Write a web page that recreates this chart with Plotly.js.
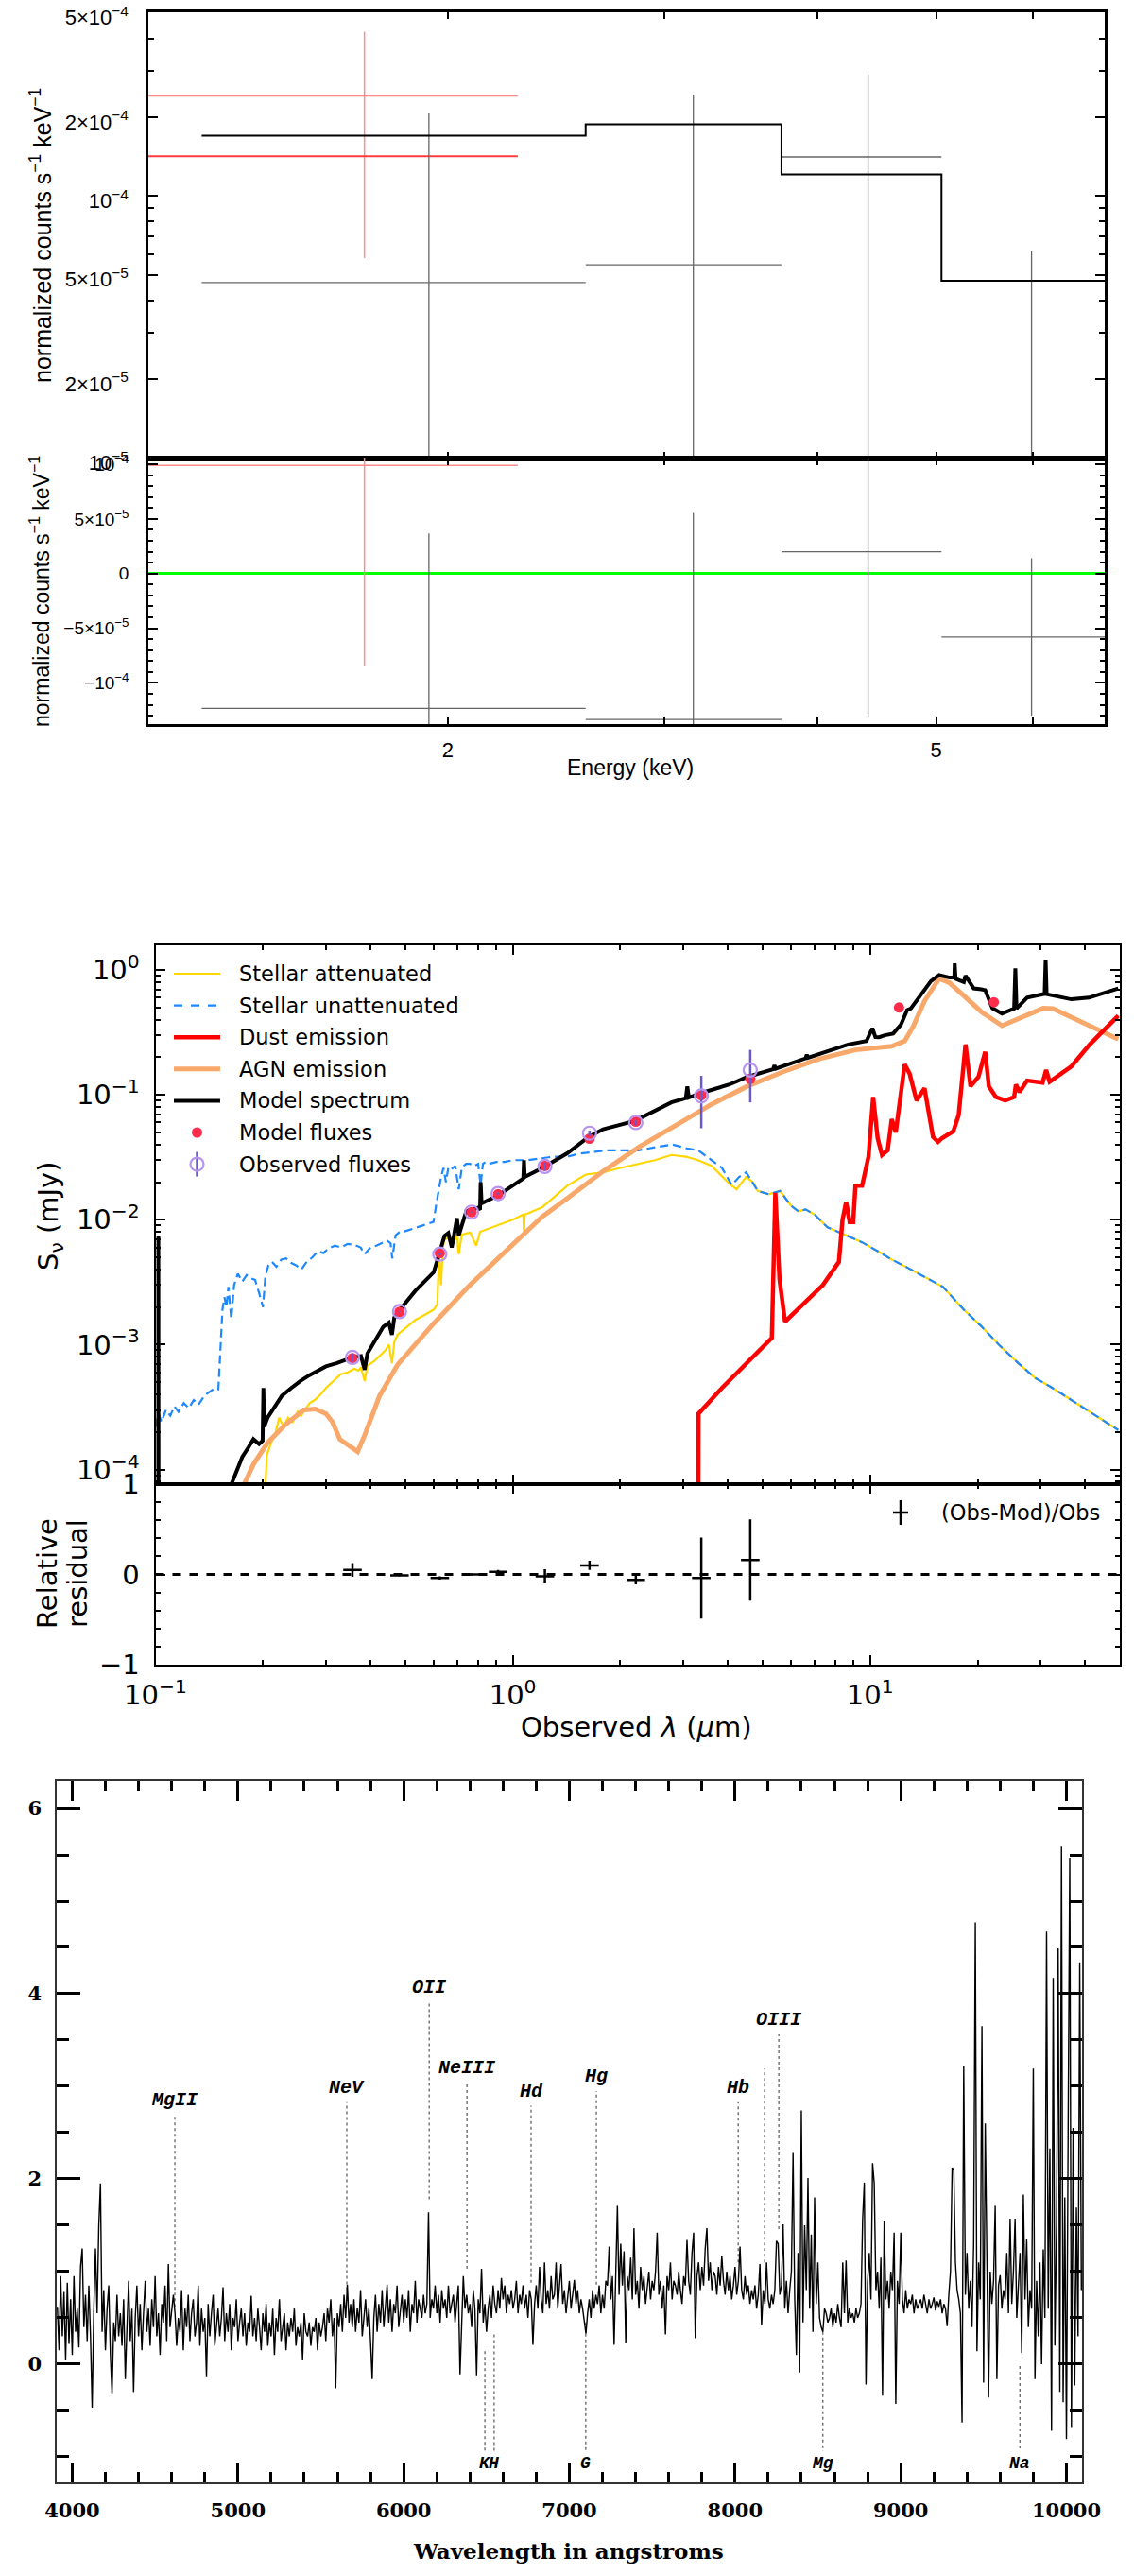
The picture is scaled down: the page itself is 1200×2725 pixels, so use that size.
<!DOCTYPE html>
<html>
<head>
<meta charset="utf-8">
<script src="https://cdn.plot.ly/plotly-3.0.1.min.js"></script>
<style>
  html, body { margin: 0; padding: 0; background: #fff; }
  #chart { width: 1200px; height: 2725px; }
</style>
</head>
<body>
<div id="chart"></div>
<script>
// ---------- X-ray spectrum: black instrument (4 bins) and red instrument (1 bin) ----------
const binLo = [1.26, 2.59, 3.74, 5.05];
const binHi = [2.59, 3.74, 5.05, 6.9];
const binE = [1.93, 3.17, 4.40, 5.98];
const binRate = [4.67e-5, 5.46e-5, 1.41e-4, -1.05e-5];
const binErr = [1.60e-4, 1.89e-4, 1.51e-4, 7.2e-5];
const binModel = [1.70e-4, 1.88e-4, 1.21e-4, 4.75e-5];

const redLo = [1.10];
const redHi = [2.28];
const redE = [1.71];
const redRate = [2.41e-4];
const redErr = [1.83e-4];
const redModel = [1.42e-4];

// ---------- SED ----------
const blueLam = [0.100,0.102,0.104,0.107,0.110,0.113,0.116,0.120,0.124,0.128,
  0.132,0.137,0.142,0.147,0.150,0.1525,0.154,0.156,0.158,0.160,
  0.163,0.166,0.170,0.175,0.180,0.185,0.190,0.195,0.200,0.203,
  0.207,0.212,0.218,0.225,0.232,0.240,0.248,0.256,0.265,0.275,
  0.285,0.295,0.305,0.318,0.330,0.345,0.360,0.375,0.385,0.400,
  0.415,0.430,0.445,0.455,0.460,0.470,0.480,0.500,0.520,0.540,
  0.560,0.580,0.600,0.610,0.620,0.630,0.640,0.650,0.660,0.670,
  0.680,0.690,0.706,0.720,0.740,0.760,0.780,0.800,0.813,0.825,
  0.840,0.860,0.900,0.950,1.00,1.10,1.20,1.30,1.42,1.55,
  1.70,1.85,2.00,2.25,2.50,2.80,3.10,3.30,3.60,3.85,
  4.10,4.30,4.50,4.85,5.20,5.60,6.00,6.30,6.60,7.00,
  7.60,8.50,9.50,10.5,11.5,13.0,14.5,16.0,18.3,20.5,
  23.0,26.0,29.0,32.0,36.6,42.0,49.5];
const blueS = [2.2e-4,2.8e-4,2.4e-4,3.0e-4,2.7e-4,3.2e-4,2.9e-4,3.4e-4,3.1e-4,3.6e-4,
  3.3e-4,3.9e-4,4.2e-4,4.5e-4,4.4e-4,1.0e-3,1.9e-3,2.4e-3,2.0e-3,2.9e-3,
  1.6e-3,3.0e-3,3.7e-3,3.2e-3,3.6e-3,3.4e-3,3.3e-3,2.6e-3,2.0e-3,3.5e-3,
  4.3e-3,4.6e-3,4.2e-3,4.8e-3,4.9e-3,4.5e-3,4.3e-3,4.0e-3,4.6e-3,5.0e-3,
  5.6e-3,5.4e-3,5.9e-3,6.2e-3,6.0e-3,6.4e-3,6.3e-3,6.0e-3,5.3e-3,6.0e-3,
  6.2e-3,6.5e-3,6.8e-3,6.5e-3,4.9e-3,7.5e-3,7.9e-3,8.1e-3,8.4e-3,8.6e-3,
  8.9e-3,9.3e-3,9.6e-3,1.3e-2,1.75e-2,2.2e-2,2.6e-2,2.0e-2,2.6e-2,2.5e-2,
  2.6e-2,2.7e-2,1.75e-2,2.6e-2,2.8e-2,2.8e-2,2.7e-2,2.8e-2,1.9e-2,2.8e-2,
  2.9e-2,2.8e-2,2.9e-2,2.9e-2,3.0e-2,3.0e-2,3.1e-2,3.2e-2,3.2e-2,3.4e-2,
  3.5e-2,3.6e-2,3.6e-2,3.6e-2,3.8e-2,4.0e-2,3.7e-2,3.6e-2,3.0e-2,2.6e-2,
  1.9e-2,2.2e-2,2.4e-2,1.7e-2,1.6e-2,1.7e-2,1.3e-2,1.17e-2,1.21e-2,1.1e-2,
  8.7e-3,7.6e-3,6.6e-3,5.6e-3,4.8e-3,4.0e-3,3.4e-3,2.9e-3,1.9e-3,1.4e-3,
  9.9e-4,7.1e-4,5.4e-4,4.6e-4,3.6e-4,2.8e-4,2.07e-4];

// attenuated stars; beyond ~4.8 um it follows the unattenuated curve
const goldLam = [0.203,0.205,0.210,0.216,0.222,0.228,0.235,0.242,0.250,0.256,
  0.262,0.270,0.279,0.290,0.300,0.310,0.320,0.330,0.345,0.360,
  0.370,0.376,0.385,0.392,0.410,0.424,0.440,0.450,0.459,0.466,
  0.476,0.500,0.534,0.560,0.600,0.615,0.622,0.630,0.637,0.644,
  0.660,0.680,0.698,0.706,0.720,0.760,0.790,0.810,0.850,0.900,
  0.957,1.00,1.07,1.075,1.08,1.10,1.21,1.42,1.60,1.79,
  2.00,2.25,2.50,2.78,3.05,3.30,3.60,4.04,4.23,4.50,4.70];
const goldS = [7e-5,1.3e-4,1.6e-4,1.9e-4,2.6e-4,2.2e-4,2.6e-4,2.4e-4,2.9e-4,2.7e-4,
  3.0e-4,3.4e-4,3.6e-4,4.0e-4,4.5e-4,4.9e-4,5.3e-4,5.8e-4,6.0e-4,6.4e-4,
  6.2e-4,6.6e-4,5.1e-4,6.8e-4,7.4e-4,8.1e-4,9.0e-4,1.0e-3,7.1e-4,1.05e-3,
  1.2e-3,1.35e-3,1.58e-3,1.7e-3,1.9e-3,2.1e-3,5.3e-3,3.0e-3,6.0e-3,6.9e-3,
  7.2e-3,6.5e-3,7.4e-3,5.3e-3,7.6e-3,7.9e-3,6.2e-3,8.0e-3,8.4e-3,9.0e-3,
  9.6e-3,1.0e-2,1.1e-2,8.0e-3,1.1e-2,1.12e-2,1.26e-2,1.87e-2,2.3e-2,2.4e-2,
  2.6e-2,2.8e-2,3.0e-2,3.3e-2,3.2e-2,3.0e-2,2.7e-2,1.94e-2,1.75e-2,2.2e-2,2.0e-2];

const agnLam = [0.177,0.188,0.206,0.231,0.260,0.280,0.300,0.313,0.328,0.345,
  0.368,0.385,0.424,0.476,0.601,0.759,0.957,1.21,1.42,1.79,
  2.25,2.84,3.60,4.53,5.71,7.21,9.10,11.5,12.5,13.2,
  14.2,15.6,16.7,18.3,20.5,23.4,26.6,30.5,32.5,36.6,49.5];
const agnS = [7.6e-5,1.1e-4,1.64e-4,2.29e-4,3.0e-4,3.05e-4,2.8e-4,2.4e-4,1.75e-4,1.58e-4,
  1.39e-4,1.88e-4,3.9e-4,6.9e-4,1.48e-3,3.0e-3,5.6e-3,1.06e-2,1.48e-2,2.44e-2,
  3.8e-2,5.6e-2,8.4e-2,0.117,0.153,0.194,0.229,0.245,0.270,0.353,
  0.563,0.852,0.787,0.622,0.461,0.358,0.417,0.493,0.49,0.417,0.279];

const dustLam = [3.30,3.31,3.85,4.53,5.31,5.43,5.58,5.78,7.38,8.18,
  8.37,8.57,8.77,8.97,9.10,9.50,9.90,10.2,10.5,10.8,
  11.2,11.5,11.8,12.5,12.9,13.5,14.2,15.0,15.5,15.9,
  17.1,17.7,18.5,19.1,20.1,21.0,21.5,22.5,23.9,25.3,
  25.6,26.2,27.5,30.4,31.1,31.8,36.6,41.2,49.5];
const dustS = [1e-5,2.8e-4,4.5e-4,7.1e-4,1.13e-3,1.64e-2,3.3e-3,1.53e-3,3.0e-3,4.6e-3,
  9.9e-3,1.39e-2,9.6e-3,9.6e-3,1.87e-2,1.87e-2,3.2e-2,9.6e-2,4.5e-2,3.3e-2,
  3.6e-2,6.4e-2,5.0e-2,0.175,0.148,9.0e-2,0.113,4.6e-2,4.2e-2,4.5e-2,
  5.1e-2,6.9e-2,0.253,0.117,0.139,0.221,0.117,9.6e-2,9.0e-2,9.6e-2,
  0.121,0.105,0.130,0.125,0.158,0.127,0.169,0.253,0.431];

const modelLam = [0.1000,0.1018,0.1019,0.1021,0.1600,0.163,0.167,0.175,0.182,0.188,
  0.195,0.1995,0.2005,0.2015,0.206,0.215,0.226,0.240,0.254,0.270,
  0.285,0.300,0.321,0.340,0.356,0.376,0.385,0.392,0.405,0.434,
  0.450,0.459,0.466,0.476,0.534,0.601,0.622,0.644,0.660,0.675,
  0.698,0.706,0.741,0.800,0.810,0.813,0.818,0.914,1.07,1.075,
  1.08,1.21,1.42,1.63,1.79,2.20,2.78,3.05,3.08,3.11,
  3.35,4.04,4.53,5.35,5.40,5.45,6.60,6.65,6.70,8.69,
  9.77,10.15,10.35,10.6,11.0,11.6,12.2,12.7,13.0,14.2,
  14.8,15.6,16.7,17.2,17.25,17.35,18.3,18.5,19.5,20.5,
  21.0,22.0,23.4,25.3,25.5,25.7,27.5,30.8,31.0,31.2,
  36.6,41.0,49.5];
const modelS = [1e-6,1e-6,7.4e-3,1e-6,1e-6,7.6e-5,9e-5,1.26e-4,1.5e-4,1.75e-4,
  1.6e-4,1.7e-4,4.5e-4,2.2e-4,2.6e-4,3.1e-4,3.9e-4,4.5e-4,5.1e-4,5.7e-4,
  6.2e-4,6.7e-4,7.1e-4,7.5e-4,7.9e-4,8.1e-4,6.3e-4,8.5e-4,9.9e-4,1.39e-3,
  1.5e-3,1.2e-3,1.65e-3,1.81e-3,2.7e-3,3.8e-3,5.3e-3,7.4e-3,7.8e-3,6.0e-3,
  1.03e-2,7.5e-3,1.17e-2,1.25e-2,1.2e-2,2.0e-2,1.35e-2,1.58e-2,2.14e-2,3.0e-2,
  2.2e-2,2.6e-2,3.4e-2,4.6e-2,5.3e-2,6.2e-2,8.7e-2,9.4e-2,0.117,9.5e-2,
  0.103,0.121,0.139,0.160,0.172,0.162,0.196,0.21,0.198,0.253,
  0.270,0.341,0.29,0.289,0.30,0.309,0.365,0.477,0.49,0.689,
  0.813,0.910,0.869,0.87,1.13,0.85,0.80,0.9,0.711,0.70,
  0.689,0.493,0.446,0.49,1.03,0.49,0.60,0.644,1.21,0.64,
  0.582,0.60,0.711];

const obsLam = [0.356, 0.482, 0.625, 0.767, 0.910, 1.23, 1.64, 2.21, 3.37, 4.62];
const obsS = [7.9e-4, 1.84e-3, 5.3e-3, 1.15e-2, 1.62e-2, 2.67e-2, 4.93e-2, 6.0e-2, 9.8e-2, 0.158];
const obsErr = [6e-5, 2e-5, 1e-4, 1.2e-4, 3e-4, 2.1e-3, 2.5e-3, 3e-3, 0.044, 0.071];
const modFluxLam = [0.356, 0.482, 0.625, 0.767, 0.910, 1.23, 1.64, 2.21, 3.37, 4.62, 12.05, 22.2];
const modFluxS = [7.8e-4, 1.83e-3, 5.4e-3, 1.15e-2, 1.6e-2, 2.7e-2, 4.46e-2, 6.1e-2, 0.099, 0.134, 0.50, 0.552];
const resid = [0.05, -0.01, -0.04, 0.0, 0.03, -0.02, 0.10, -0.06, -0.04, 0.16];

// ---------- optical spectrum, 10 A sampling from 3910 A ----------
const specStart = 3910, specStep = 10;
const specFlux = [
  0.62,0.15,0.95,0.30,0.78,0.05,0.88,0.22,0.70,0.10,0.95,0.35,0.60,0.18,1.05,1.25,0.40,0.75,0.25,0.85,
  0.30,-0.47,0.60,1.25,0.55,1.50,1.95,0.35,0.80,0.15,0.60,0.85,0.10,-0.33,0.45,0.25,0.75,0.30,0.55,0.20,
  0.70,-0.16,0.40,0.90,0.25,0.60,-0.30,0.50,0.85,0.30,0.65,0.15,0.55,0.90,0.35,0.60,0.20,0.70,0.40,0.95,
  0.30,0.55,0.10,0.65,0.45,0.85,0.25,1.08,0.40,0.60,0.75,0.55,0.20,0.50,0.35,0.80,0.15,0.60,0.40,0.75,
  0.25,0.55,0.70,0.30,0.45,0.85,0.20,0.60,0.35,0.50,-0.13,0.65,0.30,0.55,0.75,0.20,0.45,0.60,0.30,0.50,
  0.83,0.25,0.55,0.35,0.65,0.15,0.50,0.40,0.70,0.25,0.45,0.60,0.30,0.55,0.20,0.45,0.35,0.74,0.30,0.50,
  0.25,0.60,0.40,0.15,0.55,0.35,0.65,0.20,0.45,0.30,0.60,0.10,0.50,0.35,0.70,0.25,0.40,0.55,0.15,0.45,
  0.30,0.50,0.35,0.60,0.20,0.40,0.30,0.45,0.05,0.55,0.35,0.30,0.45,0.20,0.40,0.35,0.50,0.15,0.45,0.30,
  0.40,0.55,0.25,0.60,0.45,0.70,0.30,0.50,-0.26,0.55,0.40,0.65,0.35,0.75,0.50,0.86,0.45,0.65,0.40,0.70,
  0.35,0.60,0.45,0.80,0.30,0.55,0.70,0.40,0.60,0.25,-0.16,0.50,0.75,0.35,0.65,0.45,0.80,0.40,0.60,0.86,
  0.45,0.70,0.35,0.65,0.55,0.85,0.40,0.60,0.75,0.45,0.70,0.50,0.80,0.35,0.65,0.55,0.90,0.45,0.70,0.60,
  0.50,0.75,0.55,0.65,1.64,0.50,0.70,0.60,0.85,0.55,0.75,0.45,0.80,0.60,0.70,0.50,0.85,0.55,0.65,0.75,
  0.45,0.70,0.85,-0.11,0.50,0.95,0.60,0.75,0.55,0.65,0.40,0.80,0.60,-0.12,0.70,0.55,1.03,0.45,0.65,0.35,
  0.60,0.75,0.50,0.85,0.65,0.55,0.80,0.60,0.93,0.70,0.85,0.55,0.75,0.65,0.80,0.60,0.70,0.90,0.55,0.75,
  0.65,0.85,0.60,0.75,0.50,0.80,0.70,0.21,0.65,0.85,0.60,1.05,0.70,0.55,1.10,0.65,0.80,0.60,0.95,0.70,
  0.75,1.10,0.60,0.85,1.08,0.65,0.80,0.55,0.70,0.90,0.60,0.75,0.91,0.65,0.80,0.55,0.70,0.60,0.45,0.33,
  0.55,0.70,0.50,0.80,0.60,0.75,0.65,0.85,0.55,0.75,0.60,0.90,0.85,1.27,0.70,0.95,0.21,0.90,1.71,0.75,
  1.30,0.85,1.22,0.23,0.95,0.80,1.15,0.70,1.47,0.75,0.90,0.60,1.05,0.80,0.95,0.65,0.85,1.00,0.70,0.90,
  0.80,1.00,1.42,0.75,0.90,0.60,0.85,0.32,0.95,0.80,1.10,0.70,0.90,0.85,0.75,1.00,0.80,0.65,0.95,0.85,
  1.34,0.90,0.75,1.20,1.42,0.28,0.95,1.10,0.80,1.05,0.85,1.25,1.47,0.90,1.10,0.80,1.00,0.95,0.75,1.05,
  0.85,1.17,0.90,0.75,1.00,0.80,0.95,0.70,0.85,1.05,0.75,0.90,1.27,0.80,0.70,0.95,0.75,0.85,0.65,0.80,
  0.70,0.85,0.60,0.75,1.08,0.42,0.80,0.65,1.10,0.70,0.60,0.75,0.65,0.80,1.33,1.30,0.75,0.85,1.51,0.60,
  0.90,0.55,0.80,1.00,2.28,0.70,0.10,1.20,-0.09,2.74,0.45,1.50,0.80,2.01,0.60,1.40,0.35,1.80,0.65,1.10,
  0.50,0.40,0.35,0.60,0.55,0.45,0.50,0.60,0.40,0.55,0.45,0.65,0.50,0.40,1.10,0.55,1.12,0.45,0.60,0.50,
  0.55,0.45,0.60,0.50,0.55,0.65,1.57,1.96,-0.22,0.90,1.20,0.70,2.17,1.95,0.80,1.00,0.60,1.15,-0.34,1.55,
  0.70,0.90,0.60,1.00,0.80,1.42,-0.43,0.90,0.65,1.42,0.70,0.55,0.80,0.60,0.70,0.65,0.75,0.55,0.70,0.60,
  0.65,0.70,0.60,0.75,0.65,0.55,0.70,0.60,0.65,0.72,0.58,0.68,0.62,0.70,0.55,0.65,0.60,0.41,0.75,1.00,
  2.12,2.10,1.10,0.80,0.70,0.55,-0.63,3.22,0.75,1.20,0.60,0.90,0.40,1.30,4.77,0.14,1.10,0.70,3.65,-0.20,
  2.60,0.80,-0.36,1.00,0.65,0.90,1.71,-0.16,0.85,0.96,0.60,0.80,0.70,1.20,0.55,1.57,0.65,1.00,1.57,0.50,
  0.85,1.20,0.12,1.83,0.70,1.35,0.40,0.80,0.60,3.19,-0.16,0.90,0.30,1.10,0.00,1.24,0.50,4.67,0.60,2.33,
  -0.72,4.17,0.20,1.50,4.49,-0.30,5.59,-0.41,1.80,-0.81,2.50,5.47,-0.68,2.55,-0.23,1.69,0.30,4.33,0.80
];
const specWave = specFlux.map((_, i) => specStart + i * specStep);

const emWave = [4619, 5657, 6154, 6382, 6769, 7163, 8019, 8178, 8264];
const emTop = [2.69, 2.83, 3.91, 3.04, 2.79, 2.95, 2.83, 3.19, 3.56];
const emBase = [0.62, 0.80, 1.78, 1.03, 0.88, 0.86, 1.10, 1.10, 1.46];
const emName = ['MgII', 'NeV', 'OII', 'NeIII', 'Hd', 'Hg', 'Hb', '', 'OIII'];
const absWave = [6490, 6546, 7099, 8530, 9719];
const absTop = [0.14, 0.32, 0.45, 0.35, -0.02];
const absBase = [-0.94, -0.94, -0.94, -0.94, -0.94];
const absName = ['K', 'H', 'G', 'Mg', 'Na'];

// ---------- helpers ----------
const W = 1200, H = 2725;
const px = v => v / W;
const py = v => 1 - v / H;

// data crosses as segments: horizontal bin width + vertical error
function crosses(lo, hi, e, val, err, floor) {
  const x = [], y = [];
  for (let i = 0; i < e.length; i++) {
    let down = val[i] - err[i];
    if (floor !== undefined) down = Math.max(down, floor);
    x.push(lo[i], hi[i], null, e[i], e[i], null);
    y.push(val[i], val[i], null, down, val[i] + err[i], null);
  }
  return {x, y};
}
function vsegs(xs, a, b) {
  const x = [], y = [];
  xs.forEach((v, i) => { x.push(v, v, null); y.push(a[i], b[i], null); });
  return {x, y};
}
function decadeMinors(lo, hi) {
  const out = [];
  for (let d = lo; d <= hi; d++) for (let k = 2; k <= 9; k++) out.push(k * Math.pow(10, d));
  return out;
}

const blackResid = binRate.map((r, i) => r - binModel[i]);
const redResid = redRate.map((r, i) => r - redModel[i]);
const residErr = obsErr.map((e, i) => e / obsS[i]);

const blkTop = crosses(binLo, binHi, binE, binRate, binErr, 1e-7);
const redTop = crosses(redLo, redHi, redE, redRate, redErr, 1e-7);
const blkBot = crosses(binLo, binHi, binE, blackResid, binErr);
const redBot = crosses(redLo, redHi, redE, redResid, redErr);

const tail = blueLam.map((l, i) => [l, blueS[i]]).filter(p => p[0] >= 4.85);
const goldAllLam = goldLam.concat(tail.map(p => p[0]));
const goldAllS = goldS.concat(tail.map(p => p[1]));

const emSeg = vsegs(emWave, emBase, emTop);
const absSeg = vsegs(absWave, absTop, absBase);

// SED styles, reused by the hand-built legend
const sty = {
  gold: {color: '#FFD700', width: 2.2},
  blue: {color: '#1E88FF', width: 2.2, dash: '9px,5px'},
  dust: {color: '#FF0000', width: 4.5},
  agn: {color: '#F8A86A', width: 5},
  model: {color: '#000', width: 4},
  modFlux: '#FF2D4B',
  obs: '#B794F0',
  obsBar: '#6A5ACD'
};

const traces = [
  // X-ray upper
  {x: redTop.x, y: redTop.y, xaxis: 'x', yaxis: 'y', mode: 'lines', line: {color: '#ff8c8c', width: 1.5}},
  {x: redLo.concat([redHi[redHi.length - 1]]), y: redModel.concat([redModel[redModel.length - 1]]), xaxis: 'x', yaxis: 'y',
   mode: 'lines', line: {color: '#ff3b3b', width: 2, shape: 'hv'}},
  {x: blkTop.x, y: blkTop.y, xaxis: 'x', yaxis: 'y', mode: 'lines', line: {color: '#666', width: 1.3}},
  {x: binLo.concat([binHi[binHi.length - 1]]), y: binModel.concat([binModel[binModel.length - 1]]), xaxis: 'x', yaxis: 'y',
   mode: 'lines', line: {color: '#000', width: 2, shape: 'hv'}},
  // X-ray residuals
  {x: redBot.x, y: redBot.y, xaxis: 'x2', yaxis: 'y2', mode: 'lines', line: {color: '#ff8c8c', width: 1.5}},
  {x: blkBot.x, y: blkBot.y, xaxis: 'x2', yaxis: 'y2', mode: 'lines', line: {color: '#666', width: 1.3}},

  // SED
  {x: goldAllLam, y: goldAllS, xaxis: 'x3', yaxis: 'y3', mode: 'lines', line: sty.gold},
  {x: blueLam, y: blueS, xaxis: 'x3', yaxis: 'y3', mode: 'lines', line: sty.blue},
  {x: agnLam, y: agnS, xaxis: 'x3', yaxis: 'y3', mode: 'lines', line: sty.agn},
  {x: dustLam, y: dustS, xaxis: 'x3', yaxis: 'y3', mode: 'lines', line: sty.dust},
  {x: modelLam, y: modelS, xaxis: 'x3', yaxis: 'y3', mode: 'lines', line: sty.model},
  {x: modFluxLam, y: modFluxS, xaxis: 'x3', yaxis: 'y3', mode: 'markers', marker: {color: sty.modFlux, size: 11}},
  {x: obsLam, y: obsS, xaxis: 'x3', yaxis: 'y3', mode: 'markers',
   marker: {symbol: 'circle-open', color: sty.obs, size: 14, line: {width: 2.2, color: sty.obs}},
   error_y: {type: 'data', array: obsErr, color: sty.obsBar, thickness: 2.5, width: 0}},
  // SED residuals
  {x: obsLam, y: resid, xaxis: 'x4', yaxis: 'y4', mode: 'markers',
   marker: {symbol: 'line-ew', size: 14, color: '#000', line: {width: 2.5, color: '#000'}},
   error_y: {type: 'data', array: residErr, color: '#000', thickness: 2.5, width: 0}},

  // optical spectrum
  {x: emSeg.x, y: emSeg.y, xaxis: 'x5', yaxis: 'y5', mode: 'lines', line: {color: '#555', width: 1.2, dash: 'dot'}},
  {x: absSeg.x, y: absSeg.y, xaxis: 'x5', yaxis: 'y5', mode: 'lines', line: {color: '#555', width: 1.2, dash: 'dot'}},
  {x: specWave, y: specFlux, xaxis: 'x5', yaxis: 'y5', mode: 'lines', line: {color: '#000', width: 1.4}}
];

function frame(extra) {
  return Object.assign({showline: true, linecolor: '#000', mirror: 'allticks', ticks: 'inside',
    showgrid: false, zeroline: false, tickcolor: '#000', ticklabeloverflow: 'allow'}, extra);
}
const xrTick = {family: 'Liberation Sans, Arial, sans-serif', size: 22, color: '#000'};
const xrTickLow = {family: 'Liberation Sans, Arial, sans-serif', size: 19, color: '#000'};
const sedFont = {family: 'DejaVu Sans, sans-serif', size: 29, color: '#000'};
const sedLegFont = {family: 'DejaVu Sans, sans-serif', size: 22.5, color: '#000'};
const spFont = {family: 'DejaVu Serif, serif', size: 21, color: '#000', weight: 'bold'};
const eRange = [Math.log10(1.14), Math.log10(6.86)];
const lamRange = [-1, Math.log10(50)];
const pow = s => '10<sup>' + s + '</sup>';

const layout = {
  width: W, height: H,
  margin: {l: 0, r: 0, t: 0, b: 0},
  paper_bgcolor: '#fff', plot_bgcolor: 'rgba(0,0,0,0)',
  hovermode: false,
  showlegend: false,

  xaxis: frame({domain: [px(157), px(1169)], anchor: 'y', type: 'log', range: eRange, linewidth: 2.5,
    tickmode: 'array', tickvals: [2, 3, 4, 5, 6], ticklen: 7, tickwidth: 2, showticklabels: false}),
  yaxis: frame({domain: [py(485), py(13)], anchor: 'x', type: 'log', range: [Math.log10(0.995e-5), Math.log10(5.03e-4)], linewidth: 2.5,
    tickmode: 'array', tickvals: [1e-5, 2e-5, 5e-5, 1e-4, 2e-4, 5e-4],
    ticktext: [pow('−5'), '2×' + pow('−5'), '5×' + pow('−5'), pow('−4'), '2×' + pow('−4'), '5×' + pow('−4')],
    ticklen: 10, tickwidth: 2, tickfont: xrTick, ticklabelstandoff: 14, ticklabelshift: 5,
    minor: {tickvals: [3e-5, 4e-5, 6e-5, 7e-5, 8e-5, 9e-5, 3e-4, 4e-4], ticklen: 6, tickwidth: 2, ticks: 'inside', tickcolor: '#000'}}),
  xaxis2: frame({domain: [px(157), px(1169)], anchor: 'y2', type: 'log', range: eRange, linewidth: 2.5,
    tickmode: 'array', tickvals: [2, 5], ticktext: ['2', '5'], ticklen: 7, tickwidth: 2, tickfont: xrTick, ticklabelstandoff: 6,
    minor: {tickvals: [3, 4, 6], ticklen: 7, tickwidth: 2, ticks: 'inside', tickcolor: '#000'}}),
  yaxis2: frame({domain: [py(766), py(485)], anchor: 'x2', range: [-1.377e-4, 1.052e-4], linewidth: 2.5,
    tickmode: 'array', tickvals: [-1e-4, -5e-5, 0, 5e-5, 1e-4],
    ticktext: ['−' + pow('−4'), '−5×' + pow('−5'), '0', '5×' + pow('−5'), pow('−4')],
    ticklen: 10, tickwidth: 2, tickfont: xrTickLow, ticklabelstandoff: 14,
    zeroline: true, zerolinecolor: '#00ff00', zerolinewidth: 3,
    minor: {tickmode: 'linear', tick0: 0, dtick: 1e-5, ticklen: 5, tickwidth: 2, ticks: 'inside', tickcolor: '#000'}}),

  xaxis3: frame({domain: [px(164.5), px(1185)], anchor: 'y3', type: 'log', range: lamRange, linewidth: 2,
    tickmode: 'array', tickvals: [0.1, 1, 10], ticklen: 10, tickwidth: 1.5, showticklabels: false,
    minor: {tickvals: decadeMinors(-1, 1), ticklen: 5, tickwidth: 1.5, ticks: 'inside', tickcolor: '#000'}}),
  yaxis3: frame({domain: [py(1570), py(1000)], anchor: 'x3', type: 'log', range: [-4.117, 0.197], linewidth: 2,
    tickmode: 'array', tickvals: [1e-4, 1e-3, 1e-2, 1e-1, 1],
    ticktext: [pow('−4'), pow('−3'), pow('−2'), pow('−1'), pow('0')],
    ticklen: 10, tickwidth: 1.5, tickfont: sedFont, ticklabelstandoff: 9,
    minor: {tickvals: decadeMinors(-5, 0), ticklen: 5, tickwidth: 1.5, ticks: 'inside', tickcolor: '#000'}}),
  xaxis4: frame({domain: [px(164.5), px(1185)], anchor: 'y4', type: 'log', range: lamRange, linewidth: 2,
    tickmode: 'array', tickvals: [0.1, 1, 10], ticktext: [pow('−1'), pow('0'), pow('1')],
    ticklen: 10, tickwidth: 1.5, tickfont: sedFont, ticklabelstandoff: 5,
    minor: {tickvals: decadeMinors(-1, 1), ticklen: 5, tickwidth: 1.5, ticks: 'inside', tickcolor: '#000'}}),
  yaxis4: frame({domain: [py(1761), py(1570)], anchor: 'x4', range: [-1, 1], linewidth: 2,
    tickmode: 'array', tickvals: [-1, 0, 1], ticktext: ['−1', '0', '1'],
    ticklen: 10, tickwidth: 1.5, tickfont: sedFont, ticklabelstandoff: 9,
    minor: {tickmode: 'linear', tick0: -1, dtick: 0.2, ticklen: 5, tickwidth: 1.5, ticks: 'inside', tickcolor: '#000'}}),

  xaxis5: frame({domain: [px(60), px(1145)], anchor: 'y5', range: [3906, 10094], linewidth: 1.5, linecolor: '#333',
    tickmode: 'linear', tick0: 4000, dtick: 1000, tickformat: 'd', ticklen: 21, tickwidth: 2.5, tickfont: spFont, ticklabelstandoff: 10,
    minor: {tickmode: 'linear', tick0: 4000, dtick: 200, ticklen: 11, tickwidth: 2.5, ticks: 'inside', tickcolor: '#000'}}),
  yaxis5: frame({domain: [py(2626), py(1884)], anchor: 'x5', range: [-1.276, 6.296], linewidth: 1.5, linecolor: '#333',
    tickmode: 'array', tickvals: [0, 2, 4, 6], ticklen: 25, tickwidth: 3, tickfont: spFont, ticklabelstandoff: 10,
    minor: {tickmode: 'linear', tick0: 0, dtick: 0.5, ticklen: 13, tickwidth: 3, ticks: 'inside', tickcolor: '#000'}}),

  shapes: [
    {type: 'line', xref: 'x4 domain', x0: 0, x1: 1, yref: 'y4', y0: 0, y1: 0, line: {color: '#000', width: 3, dash: 'dash'}}
  ],
  annotations: []
};

const ann = layout.annotations;
const shp = layout.shapes;
function title(text, x, y, font, angle, anchor) {
  ann.push({text: text, xref: 'paper', yref: 'paper', x: px(x), y: py(y), xanchor: anchor || 'center', yanchor: 'middle',
    showarrow: false, textangle: angle || 0, font: font});
}
title('normalized counts s<sup>−1</sup> keV<sup>−1</sup>', 43, 249, {family: 'Liberation Sans, Arial, sans-serif', size: 25, color: '#000'}, -90);
title('normalized counts s<sup>−1</sup> keV<sup>−1</sup>', 42, 626, {family: 'Liberation Sans, Arial, sans-serif', size: 23, color: '#000'}, -90);
title('Energy (keV)', 667, 812, {family: 'Liberation Sans, Arial, sans-serif', size: 23, color: '#000'});
title('S<sub>ν</sub> (mJy)', 53, 1286, sedFont, -90);
title('Relative', 50, 1665, sedFont, -90);
title('residual', 82, 1665, sedFont, -90);
title('Observed <i>λ</i> (<i>μ</i>m)', 673, 1827, sedFont);
title('Wavelength in angstroms', 601, 2698, {family: 'DejaVu Serif, serif', size: 23, color: '#000', weight: 'bold'});

// hand-built SED legend (matplotlib-like spacing)
const legNames = ['Stellar attenuated', 'Stellar unattenuated', 'Dust emission', 'AGN emission',
  'Model spectrum', 'Model fluxes', 'Observed fluxes'];
const legLines = [sty.gold, sty.blue, sty.dust, sty.agn, sty.model];
const legX0 = 184, legX1 = 233, legText = 251, legTop = 1030, legStep = 33.6;
legNames.forEach((name, k) => {
  const yk = legTop + k * legStep;
  title(name, legText, yk, sedLegFont, 0, 'left');
  if (k < legLines.length) {
    const ln = legLines[k];
    shp.push({type: 'line', xref: 'paper', yref: 'paper', x0: px(legX0), x1: px(legX1), y0: py(yk), y1: py(yk),
      line: {color: ln.color, width: ln.width, dash: ln.dash ? 'dash' : 'solid'}});
  } else if (k === 5) {
    const c = (legX0 + legX1) / 2;
    shp.push({type: 'circle', xref: 'paper', yref: 'paper', x0: px(c - 5.5), x1: px(c + 5.5), y0: py(yk + 5.5), y1: py(yk - 5.5),
      fillcolor: sty.modFlux, line: {width: 0}});
  } else {
    const c = (legX0 + legX1) / 2;
    shp.push({type: 'line', xref: 'paper', yref: 'paper', x0: px(c), x1: px(c), y0: py(yk + 13), y1: py(yk - 13),
      line: {color: sty.obsBar, width: 2.5}});
    shp.push({type: 'circle', xref: 'paper', yref: 'paper', x0: px(c - 7), x1: px(c + 7), y0: py(yk + 7), y1: py(yk - 7),
      line: {color: sty.obs, width: 2.2}});
  }
});
// residual legend key
const rk = 953, ry = 1600;
shp.push({type: 'line', xref: 'paper', yref: 'paper', x0: px(rk - 8), x1: px(rk + 8), y0: py(ry), y1: py(ry), line: {color: '#000', width: 2.5}});
shp.push({type: 'line', xref: 'paper', yref: 'paper', x0: px(rk), x1: px(rk), y0: py(ry + 13), y1: py(ry - 13), line: {color: '#000', width: 2.5}});
title('(Obs-Mod)/Obs', 994, ry, sedLegFont, 0, 'left');

const lineFont = {family: 'Liberation Mono, Courier New, monospace', size: 20, color: '#000'};
emWave.forEach((w, i) => {
  if (!emName[i]) return;
  ann.push({text: '<b><i>' + emName[i] + '</i></b>', xref: 'x5', yref: 'y5', x: w, y: emTop[i],
    xanchor: 'center', yanchor: 'bottom', yshift: 2, showarrow: false, font: lineFont});
});
absWave.forEach((w, i) => {
  ann.push({text: '<b><i>' + absName[i] + '</i></b>', xref: 'x5', yref: 'y5', x: w, y: absBase[i],
    xanchor: 'center', yanchor: 'top', yshift: -1, showarrow: false,
    font: Object.assign({}, lineFont, {size: 18})});
});

Plotly.newPlot('chart', traces, layout, {displayModeBar: false, responsive: false});
</script>
</body>
</html>
